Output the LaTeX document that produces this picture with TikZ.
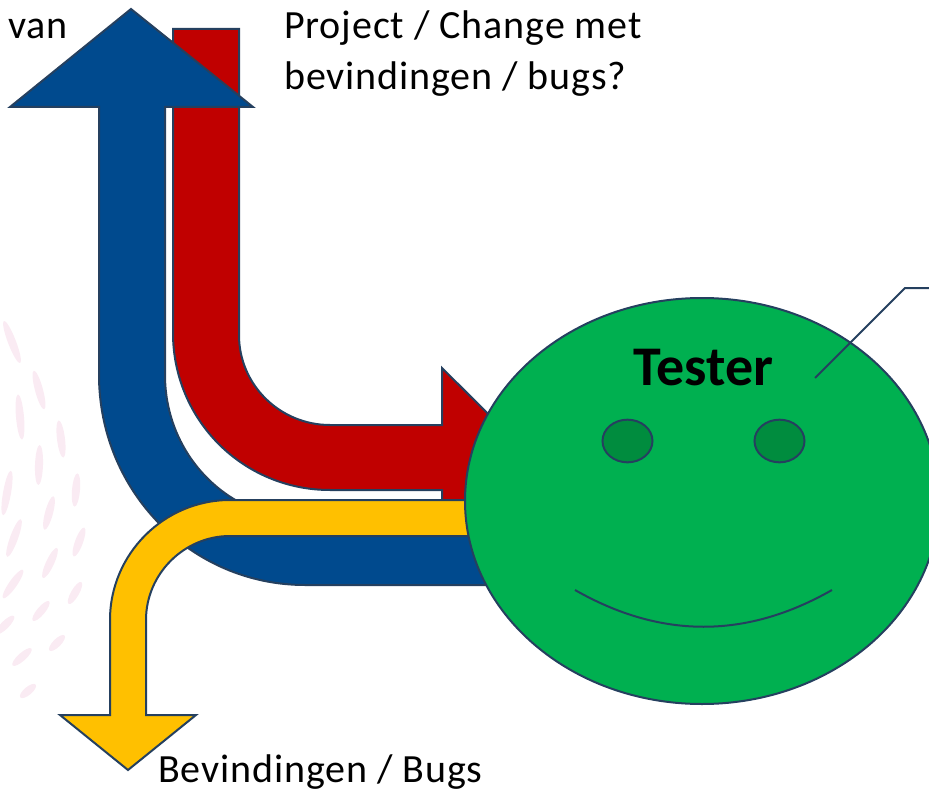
\documentclass[tikz,border=0pt]{standalone}
\usepackage{fontspec}
\setmainfont{Carlito}
\newfontfamily\labelfont[LetterSpace=2.2]{Carlito}
\usetikzlibrary{positioning,shapes.geometric}
\definecolor{lineblue}{HTML}{25405F}
\definecolor{arrowred}{HTML}{C00000}
\definecolor{arrowblue}{HTML}{004A8E}
\definecolor{arrowyellow}{HTML}{FFC000}
\definecolor{facegreen}{HTML}{00B050}
\definecolor{eyegreen}{HTML}{008C3E}
\definecolor{streakpink}{HTML}{FAEBF3}

\begin{document}
\begin{tikzpicture}[x=0.75pt,y=-0.75pt]
  \tikzset{
    block/.style={draw=lineblue, line width=1.5pt, line join=miter},
    label/.style={font=\labelfont\fontsize{30}{39}\selectfont, inner sep=0pt, align=left},
    streak/.style={ellipse, fill=streakpink, inner sep=0pt, minimum height=6pt},
    eye/.style={ellipse, draw=lineblue, line width=1.5pt, fill=eyegreen, inner sep=0pt, minimum width=37.5pt, minimum height=32pt}
  }
  \useasboundingbox (0,0) rectangle (929,792);
  % Background Streaks
  \foreach \x/\y/\a/\l [count=\i] in {12/342/111/34, 39/390/105/30, 20/417/95/34, 61/439/97/28,
      39/465/88/30, 7/493/80/34, 76/490/85/25, 49/513/75/26, 14/538/70/30, 79/542/70/23,
      50/563/65/25, 13/584/55/26, 75/593/60/19, 41/611/50/19, 5/625/45/19, 57/643/45/16,
      22/657/42/19, 28/691/40/15}
    \node [streak, rotate=\a, minimum width=\l pt] (streak-\i) at (\x,\y) {};
  % Arrows
  \draw[block, fill=arrowred] (173,29) -- (239,29) -- (239,335) .. controls (239,385) and (280,425) .. (330,425)
    -- (442,425) -- (442,368) -- (532,457.5) -- (442,547) -- (442,490) -- (330,490)
    .. controls (243,490) and (173,420) .. (173,333) -- cycle;
  \draw[block, fill=arrowblue] (131,9) -- (253,107) -- (165,107) -- (165,375) .. controls (165,455) and (228,519) .. (305,519)
    -- (550,519) -- (550,585) -- (305,585) .. controls (191,585) and (99,491) .. (99,375)
    -- (99,107) -- (10,107) -- cycle;
  \draw[block, fill=arrowyellow] (128,770) -- (196,715) -- (146,715) -- (146,620) .. controls (146,574) and (184,536) .. (230,536)
    -- (520,536) -- (520,500) -- (230,500) .. controls (164,500) and (110,554) .. (110,620)
    -- (110,715) -- (60,715) -- cycle;
  % Face
  \node [ellipse, draw=lineblue, line width=1.5pt, fill=facegreen, inner sep=0pt, minimum width=355.5pt, minimum height=304.5pt] (face) at (702,501) {};
  \node [eye] (eye-left) at (627.5,441) {};
  \node [eye, right=75pt of eye-left] (eye-right) {};
  \coordinate (smile-left) at (575,590);
  \coordinate (smile-bend-a) at (661,639);
  \coordinate (smile-bend-b) at (746,639);
  \coordinate (smile-right) at (832,590);
  \draw[lineblue, line width=1.5pt] (smile-left) .. controls (smile-bend-a) and (smile-bend-b) .. (smile-right);
  \node [font=\fontsize{42}{46}\selectfont\bfseries, inner sep=0pt, anchor=base] (tester) at (703.5,385) {Tester};
  % Callout Line
  \coordinate (callout-end) at (815,378);
  \coordinate (callout-bend) at (905,288);
  \coordinate (callout-edge) at (929,288);
  \draw[lineblue, line width=1.5pt] (callout-end) -- (callout-bend) -- (callout-edge);
  % Labels
  \node [label, anchor=base west] (van) at (8,38.5) {van};
  \node [label, anchor=base west] (project) at (284,38.5) {Project / Change met};
  \node [label, anchor=base west] (bugs-question) at (284,90) {bevindingen / bugs?};
  \node [label, anchor=base west] (bugs) at (158,782) {Bevindingen / Bugs};
\end{tikzpicture}
\end{document}
